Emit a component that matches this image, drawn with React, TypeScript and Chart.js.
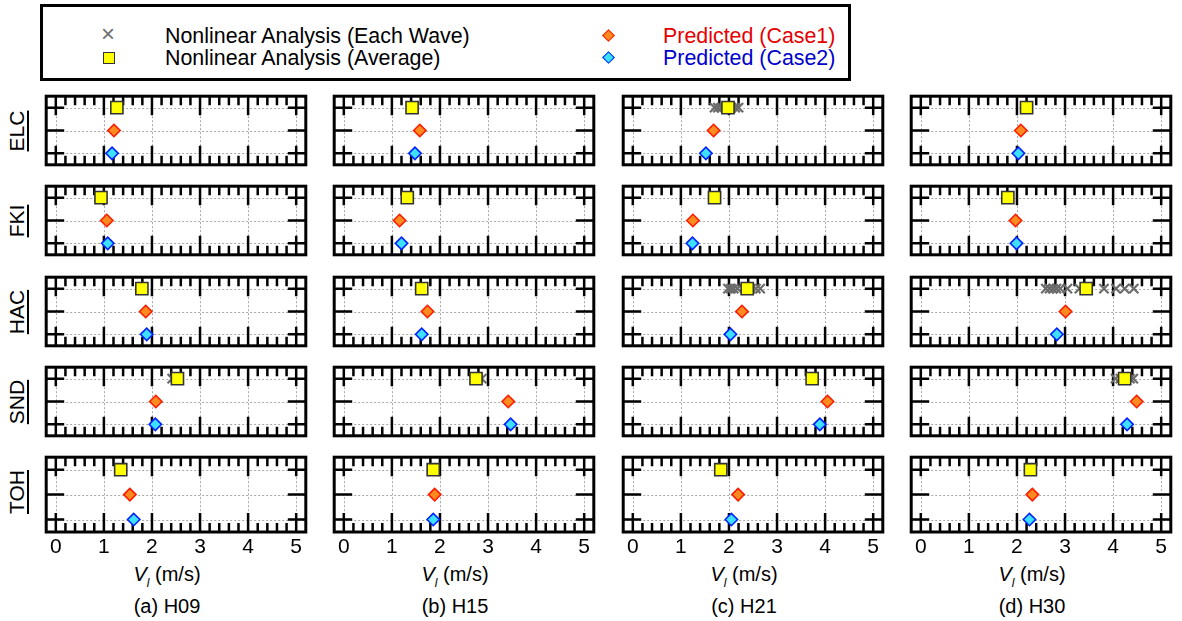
import React, { useEffect, useRef } from 'react';
import { Chart, registerables } from 'chart.js';
Chart.register(...registerables);

const FONT = '"Liberation Sans", Arial, Helvetica, sans-serif';

// ---------- data ----------
const stations = ['ELC', 'FKI', 'HAC', 'SND', 'TOH'];
const periods = ['(a) H09', '(b) H15', '(c) H21', '(d) H30'];
const xTickValues = [0, 1, 2, 3, 4, 5];
const rowValues = [1, 2, 3]; // 3: nonlinear, 2: case1, 1: case2

// H09 (per station ELC, FKI, HAC, SND, TOH)
const avgH09 = [1.27, 0.94, 1.79, 2.53, 1.35];
const case1H09 = [1.21, 1.06, 1.87, 2.08, 1.54];
const case2H09 = [1.17, 1.08, 1.89, 2.07, 1.62];
const wavesH09 = [[1.27], [0.94], [1.79], [2.42, 2.5], [1.35]];

// H15
const avgH15 = [1.42, 1.32, 1.62, 2.75, 1.86];
const case1H15 = [1.58, 1.16, 1.74, 3.42, 1.89];
const case2H15 = [1.48, 1.2, 1.62, 3.47, 1.86];
const wavesH15 = [[1.42], [1.32], [1.62], [2.75, 2.87], [1.86]];

// H21
const avgH21 = [1.98, 1.7, 2.38, 3.73, 1.83];
const case1H21 = [1.68, 1.25, 2.27, 4.05, 2.19];
const case2H21 = [1.52, 1.24, 2.03, 3.89, 2.05];
const wavesH21 = [
  [1.7, 1.77, 1.84, 1.92, 2.05, 2.13, 2.2],
  [1.7],
  [1.98, 2.04, 2.1, 2.18, 2.46, 2.56, 2.65],
  [3.73],
  [1.83],
];

// H30
const avgH30 = [2.2, 1.81, 3.44, 4.24, 2.28];
const case1H30 = [2.08, 1.97, 3.01, 4.49, 2.32];
const case2H30 = [2.03, 1.99, 2.83, 4.29, 2.26];
const wavesH30 = [
  [2.2],
  [1.81],
  [2.6, 2.68, 2.75, 2.82, 2.9, 3.05, 3.3, 3.81, 4.06, 4.24, 4.43],
  [4.05, 4.15, 4.35, 4.42],
  [2.28],
];

const avgAll = [avgH09, avgH15, avgH21, avgH30];
const case1All = [case1H09, case1H15, case1H21, case1H30];
const case2All = [case2H09, case2H15, case2H21, case2H30];
const wavesAll = [wavesH09, wavesH15, wavesH21, wavesH30];

// ---------- layout ----------
const X_MIN = -0.2;
const X_MAX = 5.2;
const Y_MIN = 0.5;
const Y_MAX = 3.5;
const PAD = 4;
const colLeft = [40, 328, 617, 905];
const rowTop = [90, 180, 271, 361, 451];
const AREA_W = 272;
const AREA_H = 81;
const AXIS_H = 30;

const framePlugin = {
  id: 'frameTicks',
  beforeDatasetsDraw(chart: any) {
    const { ctx, chartArea: a, scales } = chart;
    const xs = scales.x;
    const ys = scales.y;
    ctx.save();
    // dotted grid
    ctx.strokeStyle = '#a8a8a8';
    ctx.lineWidth = 1;
    ctx.setLineDash([2, 2]);
    ctx.beginPath();
    for (const v of xTickValues) {
      const px = Math.round(xs.getPixelForValue(v)) + 0.5;
      ctx.moveTo(px, a.top);
      ctx.lineTo(px, a.bottom);
    }
    for (const v of rowValues) {
      const py = Math.round(ys.getPixelForValue(v)) + 0.5;
      ctx.moveTo(a.left, py);
      ctx.lineTo(a.right, py);
    }
    ctx.stroke();
    ctx.setLineDash([]);
    // inward ticks
    ctx.strokeStyle = '#000';
    ctx.lineWidth = 2.5;
    ctx.beginPath();
    for (let i = 0; i <= 25; i++) {
      const v = i / 5;
      const major = i % 5 === 0;
      const len = major ? 19 : 9;
      const px = xs.getPixelForValue(v);
      ctx.moveTo(px, a.top);
      ctx.lineTo(px, a.top + len);
      ctx.moveTo(px, a.bottom);
      ctx.lineTo(px, a.bottom - len);
    }
    for (const v of rowValues) {
      const py = ys.getPixelForValue(v);
      ctx.moveTo(a.left, py);
      ctx.lineTo(a.left + 18, py);
      ctx.moveTo(a.right, py);
      ctx.lineTo(a.right - 18, py);
    }
    ctx.stroke();
    // frame
    ctx.lineWidth = 3;
    ctx.strokeRect(a.left, a.top, a.right - a.left, a.bottom - a.top);
    ctx.restore();
  },
};

function Panel({ col, row }: { col: number; row: number }) {
  const ref = useRef<HTMLCanvasElement>(null);
  const isBottom = row === 4;
  useEffect(() => {
    const xScale: any = {
      type: 'linear',
      min: X_MIN,
      max: X_MAX,
      display: isBottom,
      grid: { display: false, drawTicks: false },
      border: { display: false },
      afterBuildTicks: (s: any) => {
        s.ticks = xTickValues.map((v) => ({ value: v }));
      },
      ticks: {
        font: { family: FONT, size: 21 },
        color: '#000',
        padding: 3,
        maxRotation: 0,
        autoSkip: false,
      },
    };
    if (isBottom) {
      xScale.afterFit = (s: any) => {
        s.height = AXIS_H;
      };
    }
    const chart = new Chart(ref.current as HTMLCanvasElement, {
      type: 'scatter',
      data: {
        datasets: [
          {
            label: 'Nonlinear Analysis (Average)',
            data: [{ x: avgAll[col][row], y: 3 }],
            pointStyle: 'rect',
            pointRadius: 8.6,
            backgroundColor: '#ffff00',
            borderColor: '#333333',
            pointBorderWidth: 1.6,
            order: 0,
          },
          {
            label: 'Nonlinear Analysis (Each Wave)',
            data: wavesAll[col][row].map((x) => ({ x, y: 3 })),
            pointStyle: 'crossRot',
            pointRadius: 6.5,
            borderColor: '#6b6b6b',
            backgroundColor: '#6b6b6b',
            pointBorderWidth: 2.2,
            order: 1,
          },
          {
            label: 'Predicted (Case1)',
            data: [{ x: case1All[col][row], y: 2 }],
            pointStyle: 'rectRot',
            pointRadius: 6.2,
            backgroundColor: '#ff8a1f',
            borderColor: '#ff1a00',
            pointBorderWidth: 1.6,
            order: 2,
          },
          {
            label: 'Predicted (Case2)',
            data: [{ x: case2All[col][row], y: 1 }],
            pointStyle: 'rectRot',
            pointRadius: 6.2,
            backgroundColor: '#3ee0ff',
            borderColor: '#0022ff',
            pointBorderWidth: 1.6,
            order: 3,
          },
        ],
      },
      options: {
        responsive: false,
        animation: false,
        events: [],
        layout: { padding: { left: PAD, right: PAD, top: PAD, bottom: isBottom ? 0 : PAD } },
        plugins: { legend: { display: false }, tooltip: { enabled: false } },
        scales: {
          x: xScale,
          y: { type: 'linear', min: Y_MIN, max: Y_MAX, display: false },
        },
      },
      plugins: [framePlugin],
    } as any);
    return () => chart.destroy();
  }, [col, row, isBottom]);
  const h = AREA_H + PAD + (isBottom ? AXIS_H : PAD);
  return (
    <canvas
      ref={ref}
      width={AREA_W + 2 * PAD}
      height={h}
      style={{ position: 'absolute', left: colLeft[col] - PAD, top: rowTop[row] - PAD, width: AREA_W + 2 * PAD, height: h }}
    />
  );
}

function Legend() {
  const textStyle: React.CSSProperties = {
    position: 'absolute',
    fontFamily: FONT,
    fontSize: 21.4,
    lineHeight: '22px',
    whiteSpace: 'nowrap',
  };
  return (
    <div
      style={{
        position: 'absolute',
        left: 40,
        top: 4,
        width: 811,
        height: 77,
        border: '3px solid #000',
        boxSizing: 'border-box',
        background: '#fff',
      }}
    >
      <div style={{ ...textStyle, left: 58, top: 16, color: '#707070', fontSize: 24 }}>×</div>
      <div
        style={{
          position: 'absolute',
          left: 60,
          top: 45,
          width: 10,
          height: 10,
          background: '#ffff00',
          border: '1.5px solid #333',
        }}
      />
      <div style={{ ...textStyle, left: 122, top: 18, color: '#000' }}>Nonlinear Analysis (Each Wave)</div>
      <div style={{ ...textStyle, left: 122, top: 40, color: '#000' }}>Nonlinear Analysis (Average)</div>
      <div
        style={{
          position: 'absolute',
          left: 561,
          top: 24,
          width: 7,
          height: 7,
          background: '#ff8a1f',
          border: '1.5px solid #ff1a00',
          transform: 'rotate(45deg)',
        }}
      />
      <div
        style={{
          position: 'absolute',
          left: 561,
          top: 46,
          width: 7,
          height: 7,
          background: '#3ee0ff',
          border: '1.5px solid #0022ff',
          transform: 'rotate(45deg)',
        }}
      />
      <div style={{ ...textStyle, left: 620, top: 18, color: '#e60000' }}>Predicted (Case1)</div>
      <div style={{ ...textStyle, left: 620, top: 40, color: '#0000cc' }}>Predicted (Case2)</div>
    </div>
  );
}

export default function App() {
  const panels: JSX.Element[] = [];
  for (let c = 0; c < 4; c++) {
    for (let r = 0; r < 5; r++) {
      panels.push(<Panel key={`${c}-${r}`} col={c} row={r} />);
    }
  }
  return (
    <div style={{ position: 'absolute', left: 0, top: 0, width: 1182, height: 621, background: '#fff', overflow: 'hidden' }}>
      <Legend />
      {panels}
      {stations.map((s, r) => (
        <div
          key={s}
          style={{
            position: 'absolute',
            left: 17 - 40,
            top: rowTop[r] + AREA_H / 2 - 13,
            width: 80,
            height: 26,
            lineHeight: '26px',
            textAlign: 'center',
            fontFamily: FONT,
            fontSize: 21,
            color: '#000',
            transform: 'rotate(-90deg)',
            textDecoration: 'underline',
            textDecorationThickness: '2px',
            textUnderlineOffset: '3px',
          }}
        >
          {s}
        </div>
      ))}
      {periods.map((p, c) => (
        <React.Fragment key={p}>
          <div
            style={{
              position: 'absolute',
              left: colLeft[c] + AREA_W / 2 - 9 - 80,
              top: 562,
              width: 160,
              textAlign: 'center',
              fontFamily: FONT,
              fontSize: 20,
              lineHeight: '24px',
              color: '#000',
              whiteSpace: 'nowrap',
            }}
          >
            <i>V</i>
            <sub style={{ fontSize: 12, fontStyle: 'italic', verticalAlign: '-6px' }}>l</sub> (m/s)
          </div>
          <div
            style={{
              position: 'absolute',
              left: colLeft[c] + AREA_W / 2 - 9 - 80,
              top: 594,
              width: 160,
              textAlign: 'center',
              fontFamily: FONT,
              fontSize: 20,
              lineHeight: '24px',
              color: '#000',
              whiteSpace: 'nowrap',
            }}
          >
            {p}
          </div>
        </React.Fragment>
      ))}
    </div>
  );
}
